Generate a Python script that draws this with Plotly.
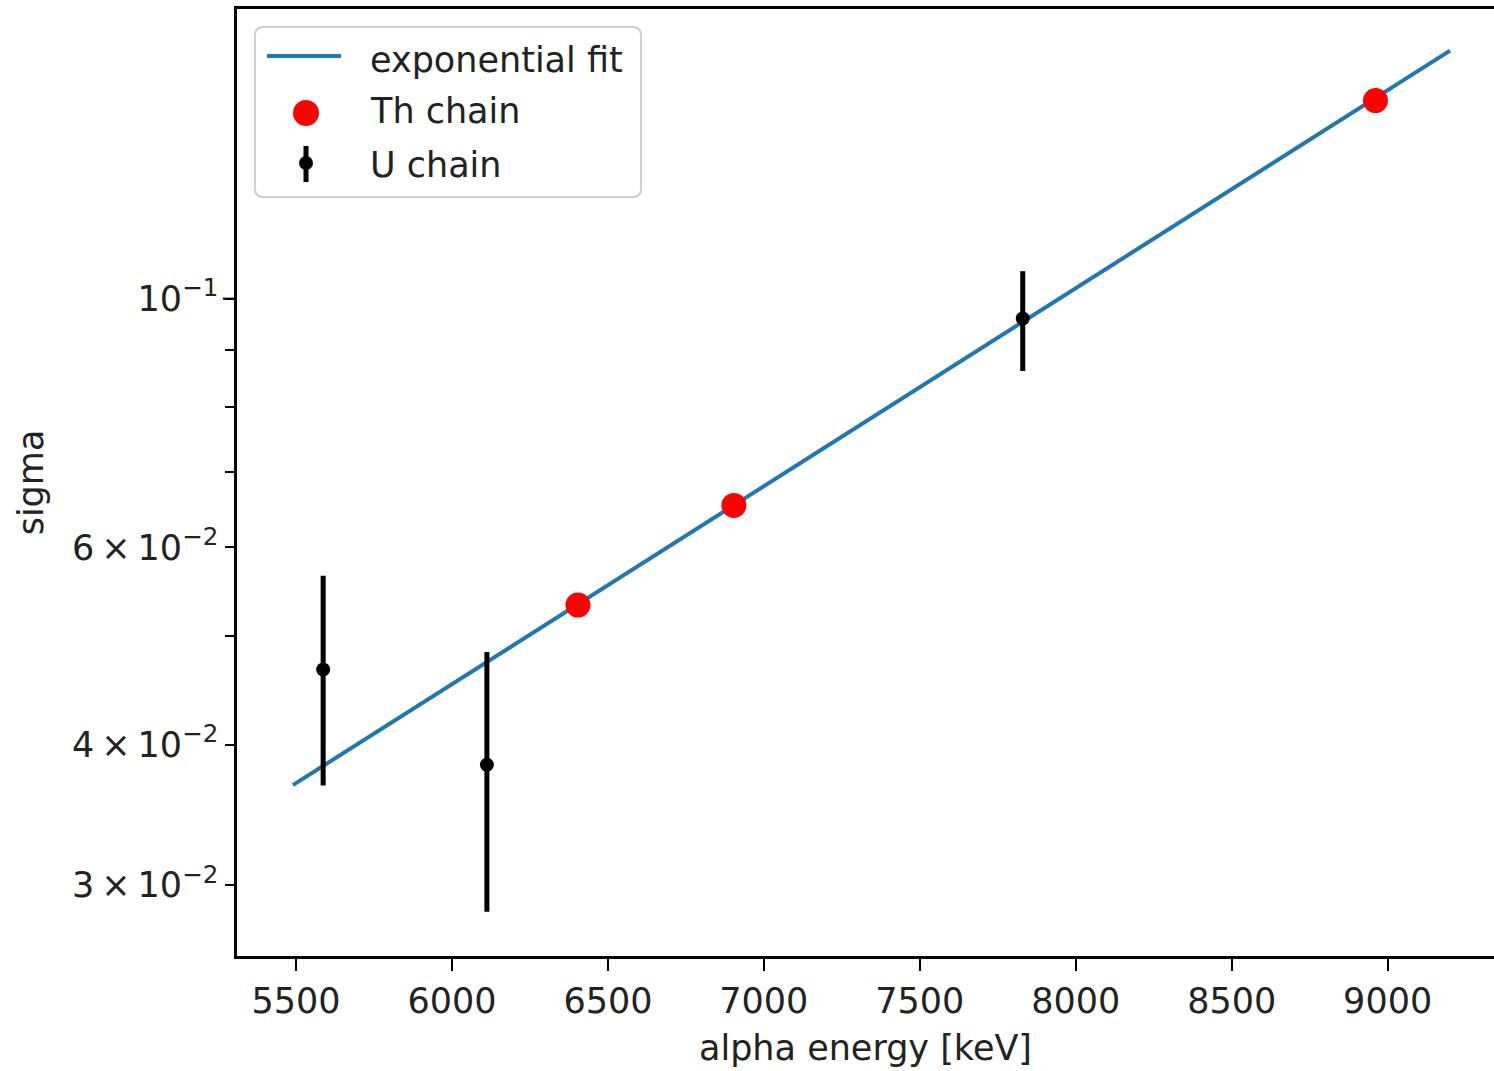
import math
import plotly.graph_objects as go

# ---------------- data ----------------
fit_x = [5490, 9200]
fit_y = [0.03683, 0.1664]

th_x = [6404, 6904, 8961]
th_y = [0.0533, 0.0654, 0.1502]

u_x = [5587, 6112, 7830]
u_y = [0.0467, 0.0384, 0.0960]
u_err = [0.0099, 0.0100, 0.0098]

y_major_vals = [0.03, 0.04, 0.06, 0.1]
y_major_text = ["3\u2009\u00d7\u200910<sup>\u22122</sup>", "4\u2009\u00d7\u200910<sup>\u22122</sup>",
                "6\u2009\u00d7\u200910<sup>\u22122</sup>", "10<sup>\u22121</sup>"]
y_minor_vals = [0.05, 0.07, 0.08, 0.09]
x_tick_vals = [5500, 6000, 6500, 7000, 7500, 8000, 8500, 9000]

legend_labels = ["exponential fit", "Th chain", "U chain"]

# ---------------- layout geometry ----------------
W, H = 1494, 1071
ML, MR, MT, MB = 237, 0, 9, 115
PW = W - ML - MR
PH = H - MT - MB
FONT = "DejaVu Sans"
FS = 35
TXT = "#222222"

x_range = [5310.8, 9341]
y_range = [-1.5862, -0.7417]


def px_x(px):
    return (px - ML) / PW


def px_y(py):
    return (H - MB - py) / PH


fig = go.Figure()

fig.add_trace(go.Scatter(x=fit_x, y=fit_y, mode="lines", name=legend_labels[0],
                         line=dict(color="#1f77b4", width=4), showlegend=False))
fig.add_trace(go.Scatter(x=th_x, y=th_y, mode="markers", name=legend_labels[1],
                         marker=dict(color="#ff0000", size=25, line=dict(width=0)),
                         showlegend=False))
fig.add_trace(go.Scatter(x=u_x, y=u_y, mode="markers", name=legend_labels[2],
                         marker=dict(color="black", size=14),
                         error_y=dict(type="data", array=u_err, visible=True,
                                      color="black", thickness=5, width=0),
                         showlegend=False))

shapes = []
# extra length for the major 10^-1 tick
yp = (math.log10(0.1) - y_range[0]) / (y_range[1] - y_range[0])
shapes.append(dict(type="line", xref="paper", yref="paper", x0=px_x(223), x1=px_x(237),
                   y0=yp, y1=yp, line=dict(color="black", width=2), layer="above"))

# legend box (rounded)
bx0, bx1, by0, by1, r = 255, 641, 27, 197, 8


def P(x, y):
    return f"{px_x(x):.6f},{px_y(y):.6f}"


path = (f"M {P(bx0 + r, by0)} L {P(bx1 - r, by0)} Q {P(bx1, by0)} {P(bx1, by0 + r)} "
        f"L {P(bx1, by1 - r)} Q {P(bx1, by1)} {P(bx1 - r, by1)} "
        f"L {P(bx0 + r, by1)} Q {P(bx0, by1)} {P(bx0, by1 - r)} "
        f"L {P(bx0, by0 + r)} Q {P(bx0, by0)} {P(bx0 + r, by0)} Z")
shapes.append(dict(type="path", xref="paper", yref="paper", path=path,
                   line=dict(color="#d0d0d0", width=2), fillcolor="rgba(255,255,255,0.8)",
                   layer="above"))
# legend samples
shapes.append(dict(type="line", xref="paper", yref="paper", x0=px_x(267), x1=px_x(341),
                   y0=px_y(56), y1=px_y(56), line=dict(color="#1f77b4", width=4), layer="above"))
shapes.append(dict(type="circle", xref="paper", yref="paper", x0=px_x(293), x1=px_x(319),
                   y0=px_y(126), y1=px_y(100), fillcolor="#ff0000", line=dict(width=0),
                   layer="above"))
shapes.append(dict(type="line", xref="paper", yref="paper", x0=px_x(306), x1=px_x(306),
                   y0=px_y(146), y1=px_y(182), line=dict(color="black", width=5), layer="above"))
shapes.append(dict(type="circle", xref="paper", yref="paper", x0=px_x(299), x1=px_x(313),
                   y0=px_y(170), y1=px_y(156), fillcolor="black", line=dict(width=0),
                   layer="above"))

annotations = []
for lab, cy in zip(legend_labels, [60, 111, 165]):
    annotations.append(dict(text=lab, xref="paper", yref="paper", x=px_x(368), y=px_y(cy),
                            xanchor="left", yanchor="middle", showarrow=False,
                            font=dict(family=FONT, size=FS, color=TXT)))

fig.update_layout(
    width=W, height=H,
    margin=dict(l=ML, r=MR, t=MT, b=MB, pad=0),
    paper_bgcolor="white", plot_bgcolor="white",
    font=dict(family=FONT, size=FS, color=TXT),
    shapes=shapes, annotations=annotations,
    showlegend=False,
)

fig.update_xaxes(
    range=x_range, showgrid=False, zeroline=False,
    showline=True, linecolor="black", linewidth=2.5, mirror=True,
    ticks="outside", ticklen=12, tickwidth=2, tickcolor="black",
    tickvals=x_tick_vals, ticktext=[str(v) for v in x_tick_vals],
    tickfont=dict(family=FONT, size=FS, color=TXT),
    title=dict(text="alpha energy [keV]", font=dict(family=FONT, size=FS, color=TXT), standoff=16),
)
fig.update_yaxes(
    type="log", range=y_range, showgrid=False, zeroline=False,
    showline=True, linecolor="black", linewidth=2.5, mirror=False,
    ticks="outside", ticklen=9, tickwidth=2, tickcolor="black",
    tickvals=y_major_vals, ticktext=y_major_text,
    tickfont=dict(family=FONT, size=FS, color=TXT),
    minor=dict(tickvals=y_minor_vals, ticks="outside", ticklen=9, tickwidth=2,
               tickcolor="black", showgrid=False),
    title=dict(text="sigma", font=dict(family=FONT, size=FS, color=TXT), standoff=18),
)

fig.write_html("out.html")
